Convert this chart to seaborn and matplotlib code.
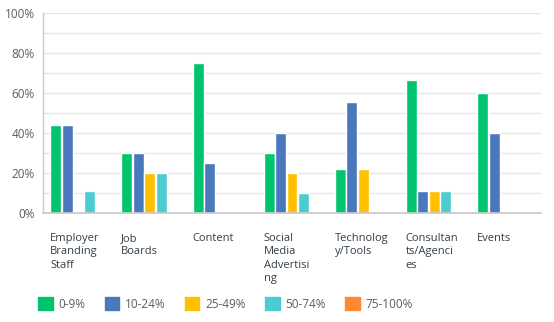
import matplotlib
matplotlib.use("Agg")
import matplotlib.pyplot as plt
import seaborn as sns
import pandas as pd
from matplotlib.patches import Patch

categories = ["Employer Branding Staff", "Job Boards", "Content", "Social Media Advertising",
              "Technology/Tools", "Consultants/Agencies", "Events"]
tick_labels = ["Employer\nBranding\nStaff", "Job\nBoards", "Content", "Social\nMedia\nAdvertisi\nng",
               "Technolog\ny/Tools", "Consultan\nts/Agenci\nes", "Events"]
ranges = ["0-9%", "10-24%", "25-49%", "50-74%", "75-100%"]
v_0_9 = [44.4, 30, 75, 30, 22.2, 66.7, 60]
v_10_24 = [44.4, 30, 25, 40, 55.6, 11.1, 40]
v_25_49 = [0, 20, 0, 20, 22.2, 11.1, 0]
v_50_74 = [11.1, 20, 0, 10, 0, 11.1, 0]
v_75_100 = [0, 0, 0, 0, 0, 0, 0]
colors = ["#00C46E", "#4A78BC", "#FFC000", "#4CCBD0", "#FF8833"]

series = [v_0_9, v_10_24, v_25_49, v_50_74, v_75_100]
rows = []
for r, vals in zip(ranges, series):
    for c, v in zip(categories, vals):
        rows.append({"category": c, "range": r, "value": v})
df = pd.DataFrame(rows)

sns.set_style("white")
plt.rcParams["font.family"] = ["Open Sans", "DejaVu Sans"]

fig = plt.figure(figsize=(5.54, 3.22), dpi=100)
ax = fig.add_axes([43/554, 1-213.3/322, (541-43)/554, 200/322])

sns.barplot(data=df, x="category", y="value", hue="range", order=categories, hue_order=ranges,
            palette=colors, width=0.8, gap=0.04, ax=ax, legend=False, saturation=1, errorbar=None)

ax.set_ylim(0, 100)
ax.set_xlim(-0.5, len(categories) - 0.5)
ax.set_yticks(range(0, 101, 10))
ax.set_yticklabels([f"{t}%" if t % 20 == 0 else "" for t in range(0, 101, 10)])
ax.yaxis.grid(True, color="#e6e6e6", linewidth=1)
ax.set_axisbelow(True)
ax.set_xticks([i - 0.40 for i in range(len(categories))])
ax.set_xticklabels(tick_labels, ha="left", va="top", linespacing=1.3)
ax.tick_params(axis="x", length=0, pad=14, labelsize=8, labelcolor="#333e48")
ax.tick_params(axis="y", length=0, pad=6, labelsize=8.5, labelcolor="#555e66")
ax.set_xlabel("")
ax.set_ylabel("")
for s in ["top", "right"]:
    ax.spines[s].set_visible(False)
ax.spines["left"].set_color("#c8c8c8")
ax.spines["bottom"].set_color("#c8c8c8")
ax.spines["left"].set_linewidth(1)
ax.spines["bottom"].set_linewidth(1.2)

handles = [Patch(facecolor=c, edgecolor=c, label=r) for c, r in zip(colors, ranges)]
leg = fig.legend(handles=handles, loc="center left", bbox_to_anchor=(38/554, 1-304/322), ncol=5,
                 frameon=False, fontsize=8.5, handlelength=1.25, handleheight=1.25,
                 handletextpad=0.5, columnspacing=1.6, borderaxespad=0, borderpad=0)
for t in leg.get_texts():
    t.set_color("#555e66")

fig.savefig("out.png", dpi=100)
